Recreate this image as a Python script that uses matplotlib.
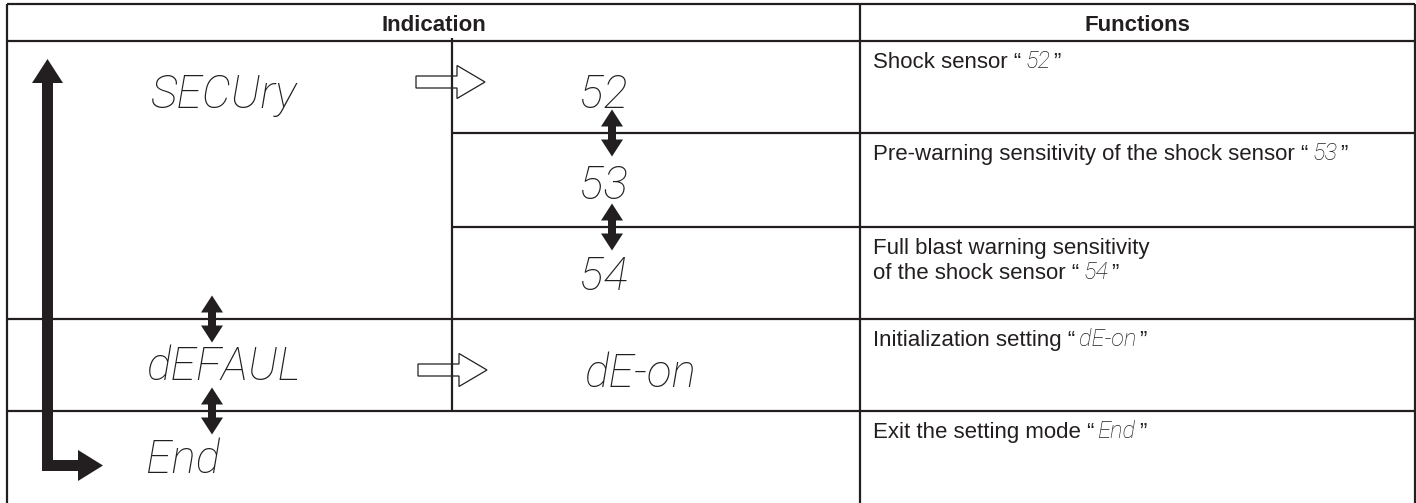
import matplotlib
matplotlib.use("Agg")
import matplotlib.pyplot as plt
from matplotlib.patches import Polygon

# ---------------- data ----------------
headers = ["Indication", "Functions"]
main_codes = ["SECUry", "dEFAUL", "End"]
sub_codes = ["52", "53", "54", "dE-on"]
func_desc = [
    ["Shock sensor"],
    ["Pre-warning sensitivity of the shock sensor"],
    ["Full blast warning sensitivity", "of the shock sensor"],
    ["Initialization setting"],
    ["Exit the setting mode"],
]
func_codes = ["52", "53", "54", "dE-on", "End"]

# ---------------- layout ----------------
W, H = 1416, 503
INK = "#231f20"
LW = 1.6
TXT_FONT = ["Liberation Sans", "DejaVu Sans"]
SEG_FONT = dict(family=["Roboto", "DejaVu Sans"], style="italic", weight="light")

fig = plt.figure(figsize=(W / 100, H / 100), dpi=100)
ax = fig.add_axes([0, 0, 1, 1])
ax.set_xlim(0, W)
ax.set_ylim(H, 0)
ax.axis("off")

x_left, x_mid, x_div, x_right = 7, 452, 860, 1415
y_top, y_head = 4, 41
row_edges = [41, 133, 227, 319, 411, 503]


def hline(y, x0, x1):
    ax.plot([x0, x1], [y, y], color=INK, lw=LW, solid_capstyle="butt", zorder=3)


def vline(x, y0, y1):
    ax.plot([x, x], [y0, y1], color=INK, lw=LW, solid_capstyle="butt", zorder=3)


# table grid
hline(y_top, x_left, x_right)
hline(y_head, x_left, x_right)
vline(x_left, y_top, H)
vline(x_right, y_top, H)
vline(x_div, y_top, H)
vline(x_mid, y_head - 3, row_edges[4])
hline(row_edges[1], x_mid, x_right)
hline(row_edges[2], x_mid, x_right)
hline(row_edges[3], x_left, x_right)
hline(row_edges[4], x_left, x_right)

# headers
ax.text((x_left + x_div) / 2, 31, headers[0], ha="center", va="baseline",
        fontsize=16, fontweight="bold", family=TXT_FONT, color=INK)
ax.text((x_div + x_right) / 2, 31, headers[1], ha="center", va="baseline",
        fontsize=16, fontweight="bold", family=TXT_FONT, color=INK)

# seven-segment style display codes
SEG_SIZE = 33
main_pos = [(150, 108), (146, 380), (146, 473)]
for (x, y), code in zip(main_pos, main_codes):
    ax.text(x, y, code, ha="left", va="baseline", fontsize=SEG_SIZE, color=INK, **SEG_FONT)
sub_pos = [(603, 108), (603, 199), (603, 290), (640, 387)]
for (x, y), code in zip(sub_pos, sub_codes):
    ax.text(x, y, code, ha="center", va="baseline", fontsize=SEG_SIZE, color=INK, **SEG_FONT)


# arrows
def poly(pts, fc, ec, lw=0.0, z=4):
    ax.add_patch(Polygon(pts, closed=True, fc=fc, ec=ec, lw=lw, zorder=z, joinstyle="miter"))


# big L-shaped black arrow
sx0, sx1 = 42, 53          # vertical shaft
top_tip, head_base = 59, 83
hy0, hy1 = 460, 471        # horizontal shaft
hx_head, hx_tip = 78, 103
poly([(sx0, hy1), (sx0, head_base), (sx0 - 10, head_base), ((sx0 + sx1) / 2, top_tip),
      (sx1 + 10, head_base), (sx1, head_base), (sx1, hy0), (hx_head, hy0),
      (hx_head, hy0 - 10), (hx_tip, (hy0 + hy1) / 2), (hx_head, hy1 + 10), (hx_head, hy1)],
     INK, INK)


def double_arrow(xc, yc, half_len=23.5, head_len=17, head_hw=11, shaft_hw=4):
    t, b = yc - half_len, yc + half_len
    pts = [(xc, t), (xc + head_hw, t + head_len), (xc + shaft_hw, t + head_len),
           (xc + shaft_hw, b - head_len), (xc + head_hw, b - head_len), (xc, b),
           (xc - head_hw, b - head_len), (xc - shaft_hw, b - head_len),
           (xc - shaft_hw, t + head_len), (xc - head_hw, t + head_len)]
    poly(pts, INK, INK, z=5)


double_arrow(612, row_edges[1])
double_arrow(612, row_edges[2])
double_arrow(212, row_edges[3])
double_arrow(212, row_edges[4])


def block_arrow(x0, x1, yc, head_start, shaft_hw=6, head_hw=16.5):
    pts = [(x0, yc - shaft_hw), (head_start, yc - shaft_hw), (head_start, yc - head_hw),
           (x1, yc), (head_start, yc + head_hw), (head_start, yc + shaft_hw), (x0, yc + shaft_hw)]
    poly(pts, "white", INK, lw=0.9, z=2)


block_arrow(416, 485, 82, 457)
block_arrow(418, 487, 370, 459)

# function descriptions with inline display codes
fig.canvas.draw()
renderer = fig.canvas.get_renderer()
TXT_SIZE = 16
CODE_SIZE = 17
LINE_STEP = 25
for i, (lines, code) in enumerate(zip(func_desc, func_codes)):
    base = row_edges[i] + 27
    last = None
    for k, line in enumerate(lines):
        s = line + " \u201c" if k == len(lines) - 1 else line
        last = ax.text(873, base + k * LINE_STEP, s, ha="left", va="baseline",
                       fontsize=TXT_SIZE, family=TXT_FONT, color=INK)
    bb = last.get_window_extent(renderer)
    yb = base + (len(lines) - 1) * LINE_STEP
    c = ax.text(bb.x1 + 4, yb, code, ha="left", va="baseline", fontsize=CODE_SIZE,
                color=INK, **SEG_FONT)
    cb = c.get_window_extent(renderer)
    ax.text(cb.x1 + 3, yb, "\u201d", ha="left", va="baseline",
            fontsize=TXT_SIZE, family=TXT_FONT, color=INK)

fig.savefig("out.png", dpi=100, facecolor="white")
